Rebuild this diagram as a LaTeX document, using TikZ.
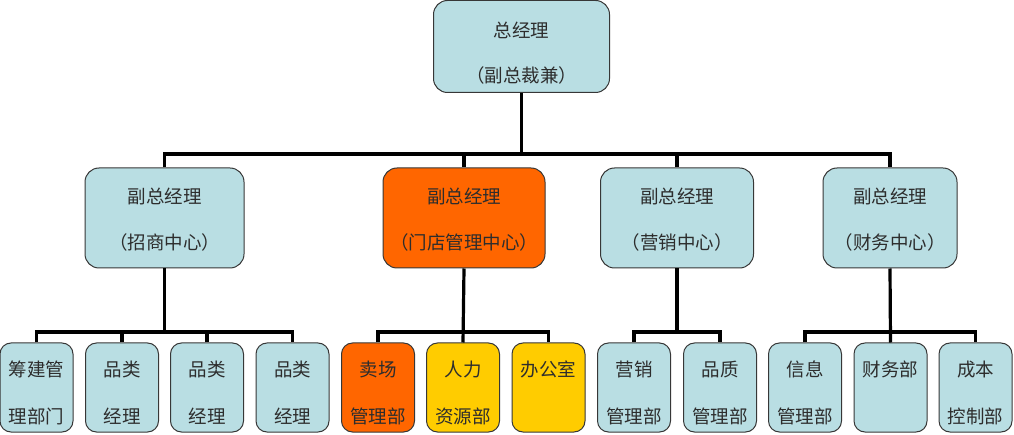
\documentclass[tikz,border=0pt]{standalone}
\usepackage{fontspec}
\setmainfont{Noto Sans CJK SC}
\definecolor{boxblue}{RGB}{185,222,227}
\definecolor{boxorange}{RGB}{255,102,0}
\definecolor{boxyellow}{RGB}{255,204,0}
\definecolor{boxline}{RGB}{55,55,55}
\definecolor{txt}{RGB}{45,45,45}
\tikzset{
  orgbox/.style={draw=boxline, line width=1pt, rounded corners=14pt, fill=boxblue, inner sep=0pt},
  smallbox/.style={orgbox, rounded corners=11pt, minimum width=73pt, minimum height=89pt},
  midbox/.style={orgbox, minimum height=100pt},
  lbl/.style={text=txt, font=\fontsize{18.5}{22}\selectfont, inner sep=0pt, anchor=center},
  conn/.style={draw=black, line width=3.2pt}
}
\begin{document}
\begin{tikzpicture}[x=1pt,y=-1pt]
\useasboundingbox (0,0) rectangle (1014,435);
% top
\node[orgbox, minimum width=176pt, minimum height=92pt] (top) at (521.5,46.5) {};
% middle row
\node[midbox, minimum width=159pt] (m1) at (164.5,218) {};
\node[midbox, minimum width=162pt, fill=boxorange] (m2) at (464,218) {};
\node[midbox, minimum width=153pt] (m3) at (677,218) {};
\node[midbox, minimum width=134pt] (m4) at (890,218) {};
% bottom row
\node[smallbox] (b1) at (36.5,387.5) {};
\node[smallbox] (b2) at (122,387.5) {};
\node[smallbox] (b3) at (207,387.5) {};
\node[smallbox] (b4) at (292.5,387.5) {};
\node[smallbox, fill=boxorange] (b5) at (378,387.5) {};
\node[smallbox, fill=boxyellow] (b6) at (463,387.5) {};
\node[smallbox, fill=boxyellow] (b7) at (548.5,387.5) {};
\node[smallbox] (b8) at (634,387.5) {};
\node[smallbox] (b9) at (720,387.5) {};
\node[smallbox] (b10) at (805,387.5) {};
\node[smallbox] (b11) at (890.5,387.5) {};
\node[smallbox] (b12) at (975.5,387.5) {};
% bar levels
\coordinate (barA) at (0,154);
\coordinate (barB) at (0,332);
% connectors top -> middle
\draw[conn] (top.south) -- (top.south |- barA);
\draw[conn] (m1.north) -- (m1.north |- barA) -- (m4.north |- barA) -- (m4.north);
\draw[conn] (m2.north) -- (m2.north |- barA);
\draw[conn] (m3.north) -- (m3.north |- barA);
% group 1
\draw[conn] (m1.south) -- (m1.south |- barB);
\draw[conn] (b1.north) -- (b1.north |- barB) -- (b4.north |- barB) -- (b4.north);
\draw[conn] (b2.north) -- (b2.north |- barB);
\draw[conn] (b3.north) -- (b3.north |- barB);
% group 2
\draw[conn] (m2.south) -- (b6.north);
\draw[conn] (b5.north) -- (b5.north |- barB) -- (b7.north |- barB) -- (b7.north);
% group 3
\draw[conn] (m3.south) -- (m3.south |- barB);
\draw[conn] (b8.north) -- (b8.north |- barB) -- (b9.north |- barB) -- (b9.north);
% group 4
\draw[conn] (m4.south) -- (b11.north);
\draw[conn] (b10.north) -- (b10.north |- barB) -- (b12.north |- barB) -- (b12.north);
% labels
\node[lbl] (t1) at ([yshift=-30pt]top.north) {总经理};
\node[lbl] (t2) at ([yshift=-75pt]top.north) {（副总裁兼）};
\foreach \n/\a/\b in {m1/副总经理/（招商中心）, m2/副总经理/（门店管理中心）, m3/副总经理/（营销中心）, m4/副总经理/（财务中心）}{
  \node[lbl] at ([yshift=-29pt]\n.north) {\a};
  \node[lbl] at ([yshift=-75pt]\n.north) {\b};
}
\foreach \n/\a/\b in {b1/筹建管/理部门, b2/品类/经理, b3/品类/经理, b4/品类/经理, b5/卖场/管理部, b6/人力/资源部, b8/营销/管理部, b9/品质/管理部, b10/信息/管理部, b12/成本/控制部}{
  \node[lbl] at ([yshift=-27pt]\n.north) {\a};
  \node[lbl] at ([yshift=-74pt]\n.north) {\b};
}
\node[lbl] at ([yshift=-27pt]b7.north) {办公室};
\node[lbl] at ([yshift=-27pt]b11.north) {财务部};
\end{tikzpicture}
\end{document}
